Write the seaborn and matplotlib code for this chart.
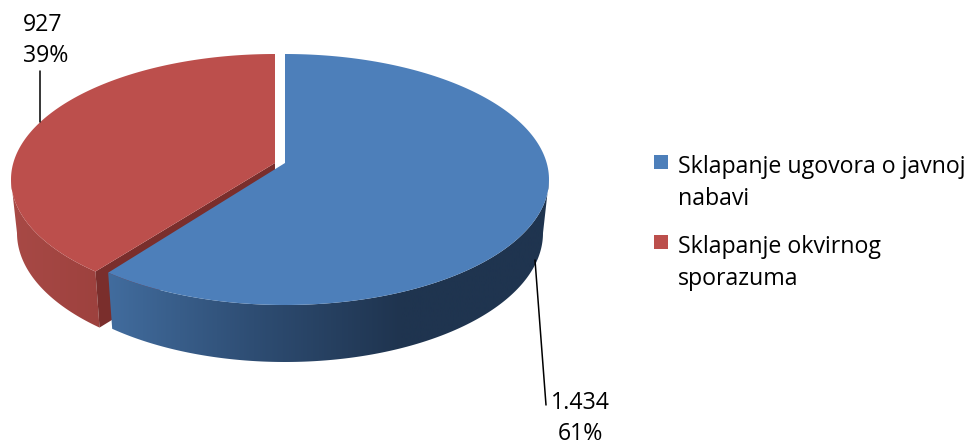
import numpy as np
import matplotlib
matplotlib.use("Agg")
import matplotlib.pyplot as plt
from matplotlib.colors import LinearSegmentedColormap
from matplotlib.patches import Polygon, Rectangle
import seaborn as sns

# Data
categories = ['Sklapanje ugovora o javnoj\nnabavi', 'Sklapanje okvirnog\nsporazuma']
values = [1434, 927]

sns.set_theme(style="white")
plt.rcParams['font.family'] = ['Open Sans', 'DejaVu Sans']
colors = sns.color_palette(['#4D7FBA', '#BC4F4C'])

fig, ax = plt.subplots(figsize=(9.71, 4.45), dpi=100)
ax.set_position([0, 0, 1, 1])

shares = [v / sum(values) for v in values]
# the 3D view shifts the cut a bit from the true angle
cut = 360 * shares[0] + 3.4
cut_red = cut + 0.8

A_TOP, B_TOP, A_BOT, B_BOT = 264, 125.5, 258, 129
CY_TOP, CY_BOT = 179.5, 233
CX_BLUE, CX_RED = 285, 275
APEX_Y = 163


def arc(cx, cy, a, b, t0, t1):
    t = np.radians(np.linspace(t0, t1, 200))
    return np.column_stack([cx + a * np.sin(t), cy - b * np.cos(t)])


def gradient_wall(points, stops, x0, x1, z):
    cmap = LinearSegmentedColormap.from_list('wall', stops)
    im = ax.imshow(np.linspace(0, 1, 256)[None, :], extent=(x0, x1, 445, 0), aspect='auto',
                   cmap=cmap, zorder=z)
    im.set_clip_path(Polygon(points, closed=True, transform=ax.transData))


# Red slice
red_wall = np.vstack([arc(CX_RED, CY_TOP, A_TOP, B_TOP, cut_red, 270),
                      arc(CX_RED, CY_BOT, A_BOT, B_BOT, 270, cut_red)])
gradient_wall(red_wall, ['#A84A46', '#9C403D'], 10, 110, 1)
tip_top = arc(CX_RED, CY_TOP, A_TOP, B_TOP, cut_red, cut_red)[0]
tip_bot = arc(CX_RED, CY_BOT, A_BOT, B_BOT, cut_red, cut_red)[0]
ax.add_patch(Polygon([tip_top, (CX_RED, APEX_Y), (CX_RED, APEX_Y + 57), tip_bot],
                     color='#7A2E2C', lw=0, zorder=2))
red_top = np.vstack([[(CX_RED, APEX_Y)], arc(CX_RED, CY_TOP, A_TOP, B_TOP, cut_red, 360)])
ax.add_patch(Polygon(red_top, color=colors[1], lw=0, zorder=3))

# Blue slice
blue_wall = np.vstack([arc(CX_BLUE, CY_TOP, A_TOP, B_TOP, 90, cut),
                       arc(CX_BLUE, CY_BOT, A_BOT, B_BOT, cut, 90)])
gradient_wall(blue_wall, ['#426D9F', '#2E4D73', '#1F344F', '#1F344F'], 105, 550, 4)
blue_top = np.vstack([[(CX_BLUE, APEX_Y)], arc(CX_BLUE, CY_TOP, A_TOP, B_TOP, 0, cut)])
ax.add_patch(Polygon(blue_top, color=colors[0], lw=0, zorder=5))

# Leader lines
ax.plot([40, 40], [71, 122], color='black', lw=1.1, zorder=6)
ax.plot([535, 546], [260, 405], color='black', lw=1.1, zorder=6)

# Data labels
fs = 16.7
pct = [f'{round(s * 100)}%' for s in shares]
ax.text(580, 403, f'{values[0]:,}'.replace(',', '.'), ha='center', va='center', fontsize=fs, color='black')
ax.text(580, 434, pct[0], ha='center', va='center', fontsize=fs, color='black')
ax.text(43, 25, f'{values[1]:,}'.replace(',', '.'), ha='center', va='center', fontsize=fs, color='black')
ax.text(46, 56, pct[1], ha='center', va='center', fontsize=fs, color='black')

# Legend
for y, c, label in zip([155, 235], colors, categories):
    ax.add_patch(Rectangle((654, y), 14, 14, color=c, lw=0))
    ax.text(678, y, label, ha='left', va='top', fontsize=fs, color='black', linespacing=1.45)

ax.set_xlim(0, 971)
ax.set_ylim(445, 0)
ax.axis('off')
plt.savefig('out.png', dpi=100)
